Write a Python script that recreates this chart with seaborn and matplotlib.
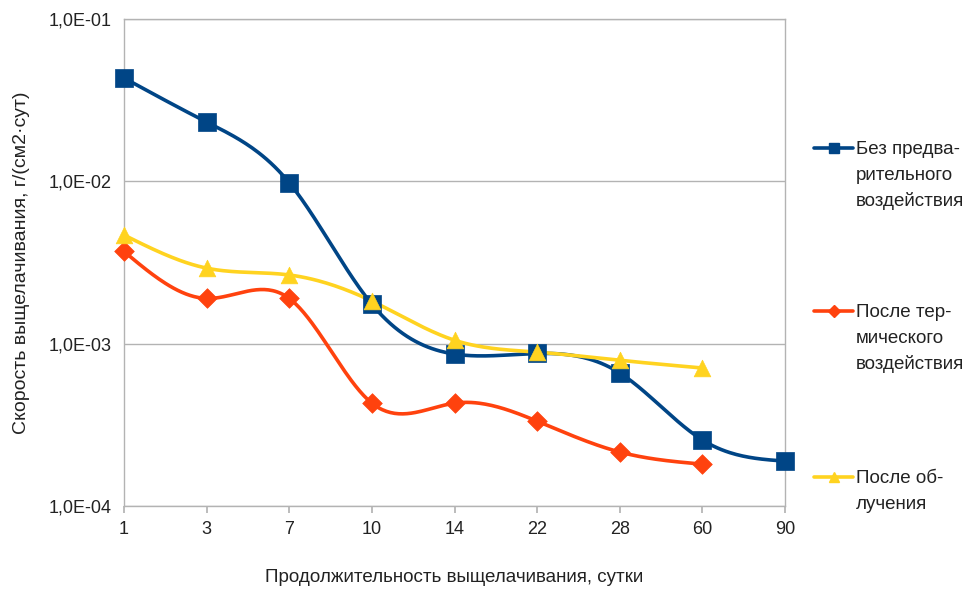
import numpy as np
import pandas as pd
import matplotlib
matplotlib.use("Agg")
import matplotlib.pyplot as plt
import seaborn as sns
from matplotlib.ticker import FixedLocator, FuncFormatter, NullLocator
from matplotlib.lines import Line2D

days = ["1", "3", "7", "10", "14", "22", "28", "60", "90"]
s_none = [0.0433, 0.0232, 0.0098, 0.00175, 0.000863, 0.00087, 0.00066, 0.000255, 0.000189]
s_heat = [0.0037, 0.0019, 0.0019, 0.00043, 0.00043, 0.000333, 0.000215, 0.000181]
s_irr = [0.00467, 0.00292, 0.00265, 0.00183, 0.00105, 0.000887, 0.00079, 0.000708]
labels = [["Без предва-", "рительного", "воздействия"],
          ["После тер-", "мического", "воздействия"],
          ["После об-", "лучения"]]
colors = ["#004586", "#ff420e", "#ffd320"]
markers = ["s", "D", "^"]
msizes = [13, 10, 12]

sns.set_theme(style="white")
plt.rcParams['font.family'] = ['Liberation Sans', 'DejaVu Sans']

def natural_spline(x, y, n=40):
    x = np.asarray(x, float); y = np.asarray(y, float)
    k = len(x)
    h = np.diff(x)
    A = np.zeros((k, k)); b = np.zeros(k)
    A[0, 0] = 1; A[-1, -1] = 1
    for i in range(1, k - 1):
        A[i, i - 1] = h[i - 1]; A[i, i] = 2 * (h[i - 1] + h[i]); A[i, i + 1] = h[i]
        b[i] = 3 * ((y[i + 1] - y[i]) / h[i] - (y[i] - y[i - 1]) / h[i - 1])
    c = np.linalg.solve(A, b)
    xs, ys = [], []
    for i in range(k - 1):
        t = np.linspace(0, h[i], n, endpoint=(i == k - 2))
        bi = (y[i + 1] - y[i]) / h[i] - h[i] * (2 * c[i] + c[i + 1]) / 3
        di = (c[i + 1] - c[i]) / (3 * h[i])
        xs.append(x[i] + t)
        ys.append(y[i] + bi * t + c[i] * t ** 2 + di * t ** 3)
    return np.concatenate(xs), np.concatenate(ys)

fig = plt.figure(figsize=(9.74, 5.95), dpi=100)
ax = fig.add_axes([0.1273, 0.1496, 0.806 - 0.1273, 0.968 - 0.1496])

handles = []
for vals, col, mk, ms in zip([s_none, s_heat, s_irr], colors, markers, msizes):
    idx = np.arange(len(vals))
    xs, ly = natural_spline(idx, np.log10(vals))
    curve = pd.DataFrame({"x": xs, "y": 10 ** ly})
    sns.lineplot(data=curve, x="x", y="y", ax=ax, color=col, linewidth=2.6, sort=False, zorder=3)
    pts = pd.DataFrame({"x": idx, "y": vals})
    sns.scatterplot(data=pts, x="x", y="y", ax=ax, color=col, marker=mk, s=ms ** 2,
                    edgecolor=col, linewidth=0.5, zorder=4, clip_on=False)
    handles.append(Line2D([], [], color=col, linewidth=2.6, marker=mk,
                          markersize=ms * 0.6, markeredgecolor=col))

ax.set_yscale("log")
ax.set_ylim(1e-4, 1e-1)
ax.set_xlim(0, len(days) - 1)
ax.yaxis.set_major_locator(FixedLocator([1e-4, 1e-3, 1e-2, 1e-1]))
ax.yaxis.set_minor_locator(NullLocator())
ax.yaxis.set_major_formatter(FuncFormatter(lambda v, p: "1,0E-%02d" % round(-np.log10(v))))
ax.set_xticks(range(len(days)))
ax.set_xticklabels(days)
ax.grid(axis="y", color="#b3b3b3", linewidth=1)
ax.grid(axis="x", visible=False)
for sp in ax.spines.values():
    sp.set_color("#b3b3b3")
    sp.set_linewidth(1)
ax.tick_params(axis="x", which="major", bottom=True, length=5, color="#b3b3b3",
               labelsize=13, pad=6, labelcolor="#222222")
ax.tick_params(axis="y", which="both", left=False, length=0, labelsize=13, pad=9,
               labelcolor="#222222")
ax.set_xlabel("Продолжительность выщелачивания, сутки", fontsize=13.5, labelpad=22, color="#222222")
ax.set_ylabel("Скорость выщелачивания, г/(см2·сут)", fontsize=14, labelpad=13, color="#222222")

blank = Line2D([], [], linestyle="none", marker="none")
ypos = [152, 315, 481]
for h, lab, yp in zip(handles, labels, ypos):
    hs = [h] + [blank] * (len(lab) - 1)
    leg = fig.legend(handles=hs, labels=lab, loc="upper left",
                     bbox_to_anchor=(814 / 974, 1 - (yp - 11) / 595),
                     frameon=False, fontsize=13.5, handlelength=2.1, handletextpad=0.15,
                     borderpad=0, borderaxespad=0, labelspacing=0.45)
    for t in leg.get_texts():
        t.set_color("#222222")

fig.savefig("out.png", dpi=100)
